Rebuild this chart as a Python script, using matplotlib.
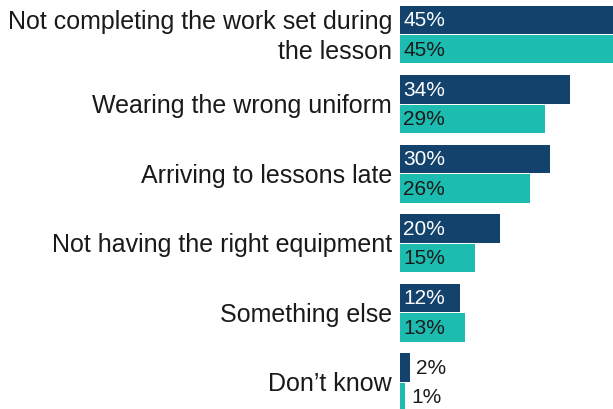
import numpy as np
import matplotlib.pyplot as plt

plt.rcParams['font.family'] = ['Liberation Sans', 'DejaVu Sans']

# Reasons given, with percentages for the two groups
categories = ["Not completing the work set during\nthe lesson",
              "Wearing the wrong uniform",
              "Arriving to lessons late",
              "Not having the right equipment",
              "Something else",
              "Don\u2019t know"]
series_a = [45, 34, 30, 20, 12, 2]
series_b = [45, 29, 26, 15, 13, 1]

dark = "#13426c"
teal = "#1cbdb0"

fig = plt.figure(figsize=(6.13, 4.10), dpi=100)
ax = fig.add_axes([400 / 613, 0, 213 / 613, 1])

y = np.arange(len(categories))
h = 0.41
gap = 0.007

ax.barh(y - h / 2 - gap, series_a, height=h, color=dark)
ax.barh(y + h / 2 + gap, series_b, height=h, color=teal)

ax.set_xlim(0, 42.6)
ax.set_ylim(5.388, -0.511)

for i in range(len(categories)):
    for val, off, col_in in [(series_a[i], -h / 2 - gap, "white"),
                             (series_b[i], h / 2 + gap, "#1a1a1a")]:
        if val >= 5:
            ax.text(0.7, y[i] + off, f"{val}%", color=col_in, fontsize=15,
                    va="center", ha="left")
        else:
            ax.text(val + 1.2, y[i] + off, f"{val}%", color="#1a1a1a",
                    fontsize=15, va="center", ha="left")
    ax.text(-1.6, y[i] + 0.02, categories[i], fontsize=18, color="#1a1a1a",
            ha="right", va="center", linespacing=1.35, clip_on=False)

ax.axis("off")

fig.savefig("out.png", dpi=100)
